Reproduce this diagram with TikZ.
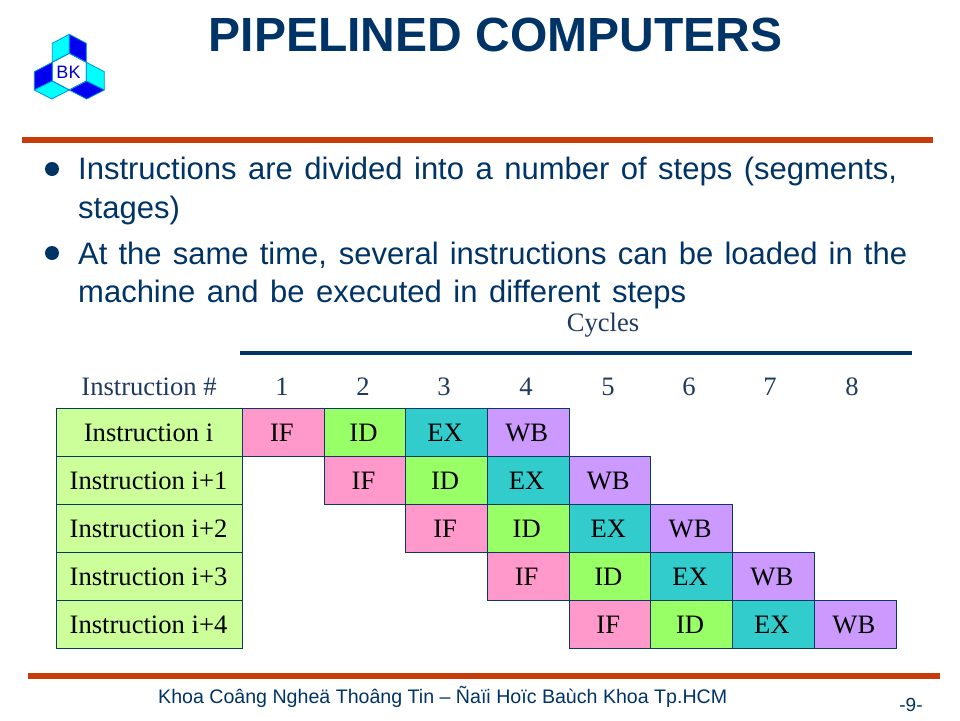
\documentclass[tikz,border=0pt]{standalone}
\usepackage{fontspec}
\setmainfont{Liberation Serif}
\newfontfamily\arialf{Liberation Sans}
\definecolor{navy}{HTML}{003366}
\definecolor{rust}{HTML}{C83C0A}
\definecolor{labelg}{HTML}{CCFF99}
\definecolor{ifc}{HTML}{FF99CC}
\definecolor{idc}{HTML}{99FF66}
\definecolor{exc}{HTML}{33CCCC}
\definecolor{wbc}{HTML}{CC99FF}
\definecolor{edgec}{HTML}{0A3A60}
\definecolor{logoC}{HTML}{00FFFF}
\definecolor{logoB}{HTML}{0000F0}
\definecolor{logoE}{HTML}{0090E0}
\definecolor{gridtxt}{HTML}{1F3A5F}
\newcommand{\justline}[2]{\hbox to #1{\spaceskip=0.278em plus 1fil\relax #2}}
\tikzset{x=1pt,y=-1pt,
  cell/.style={draw=edgec,line width=1pt,minimum height=48pt,inner sep=0pt,anchor=center,text height=24pt,text depth=6pt,font=\fontsize{26.6}{26.6}\selectfont,text=black},
  lab/.style={cell,fill=labelg,minimum width=186pt},
  cif/.style={cell,fill=ifc,minimum width=81.6pt},
  cid/.style={cell,fill=idc,minimum width=81.6pt},
  cex/.style={cell,fill=exc,minimum width=81.6pt},
  cwb/.style={cell,fill=wbc,minimum width=81.6pt},
  hdr/.style={font=\fontsize{26.6}{26.6}\selectfont,text=gridtxt,anchor=base,inner sep=0pt},
  bul/.style={anchor=base west,inner sep=0pt,font=\arialf\fontsize{31}{31}\selectfont,text=navy},
  dot/.style={circle,fill=navy,minimum size=14pt,inner sep=0pt},
  rhomb/.style={draw=logoE,line width=0.8pt,line join=round},
}
\begin{document}
\begin{tikzpicture}
\useasboundingbox (0,0) rectangle (960,720);
% logo
\fill[rhomb,fill=logoC] (52.3,43.3)--(69.3,34.3)--(69.3,53.3)--(52.3,62.3)--cycle;
\fill[rhomb,fill=logoB] (69.3,34.3)--(86.3,43.3)--(86.3,62.3)--(69.3,53.3)--cycle;
\fill[rhomb,fill=logoB] (34.3,71.7)--(52.3,62.3)--(52.3,81)--(34.3,90)--cycle;
\fill[rhomb,fill=logoC] (34.3,90)--(52.3,81)--(69.3,90)--(51.7,99)--cycle;
\fill[rhomb,fill=logoC] (86.3,62.3)--(104.3,71.7)--(104.3,90)--(86.3,81)--cycle;
\fill[rhomb,fill=logoB] (69.3,90)--(86.3,81)--(104.3,90)--(86.7,99)--cycle;
\draw[rhomb] (52.3,62.3)--(69.3,53.3)--(86.3,62.3)--(86.3,81)--(69.3,90)--(52.3,81)--cycle;
\node[text=logoB!85!black,font=\arialf\fontsize{18}{18}\selectfont,inner sep=0pt] (logo) at (68.5,72) {BK};
% title
\node[anchor=base,inner sep=0pt,font=\arialf\bfseries\fontsize{48}{48}\selectfont,text=navy] (title) at (495.5,51) {PIPELINED COMPUTERS};
% rules
\fill[rust] (22,137) rectangle (933,143);
\fill[rust] (28,673) rectangle (940,679);
% bullets
\node[dot] (b1) at (52,169) {};
\node[dot] (b2) at (52,253) {};
\node[bul] (t1a) at (78,179) {\justline{819pt}{Instructions are divided into a number of steps (segments,}};
\node[bul] (t1b) at (78,218) {stages)};
\node[bul] (t2a) at (78,264) {\justline{829pt}{At the same time, several instructions can be loaded in the}};
\node[bul] (t2b) at (78,302) {\justline{608pt}{machine and be executed in different steps}};
% header
\node[hdr] (cyc) at (603,331) {Cycles};
\fill[navy] (240,351) rectangle (912,355);
\node[hdr] (inst) at (149,395) {Instruction \#};
\foreach \n/\x in {1/282,2/363,3/444,4/526,5/608,6/689,7/770,8/852}
  \node[hdr] (h\n) at (\x,395) {\n};
% rows
\foreach \r/\y/\t in {0/432/Instruction i,1/480/Instruction i+1,2/528/Instruction i+2,3/576/Instruction i+3,4/624/Instruction i+4}
  \node[lab] (l\r) at (149.5,\y) {\hspace*{-2pt}\t};
\foreach \r/\y/\a/\b/\c/\d/\w in {0/432/283.4/365/446.6/528.2/81.6,1/480/365/446.6/528.2/609.8/81.6,2/528/446.6/528.2/609.8/691.6/81.6,3/576/528.2/609.8/691.6/773.4/81.6,4/624/609.8/691.6/773.4/855.4/82.6}{
  \node[cif] (if\r) at (\a,\y) {\hspace*{-3pt}IF};
  \node[cid] (id\r) at (\b,\y) {\hspace*{-3pt}ID};
  \node[cex] (ex\r) at (\c,\y) {\hspace*{-3pt}EX};
  \node[cwb,minimum width=\w pt] (wb\r) at (\d,\y) {\hspace*{-3pt}WB};
}
% footer
\node[anchor=base west,inner sep=0pt,font=\arialf\fontsize{19.6}{19.6}\selectfont,text=navy] (foot) at (158,703) {Khoa Coâng Ngheä Thoâng Tin – Ñaïi Hoïc Baùch Khoa Tp.HCM};
\node[anchor=base,inner sep=0pt,font=\arialf\fontsize{19}{19}\selectfont,text=navy] (pg) at (911,711) {-9-};
\end{tikzpicture}
\end{document}
